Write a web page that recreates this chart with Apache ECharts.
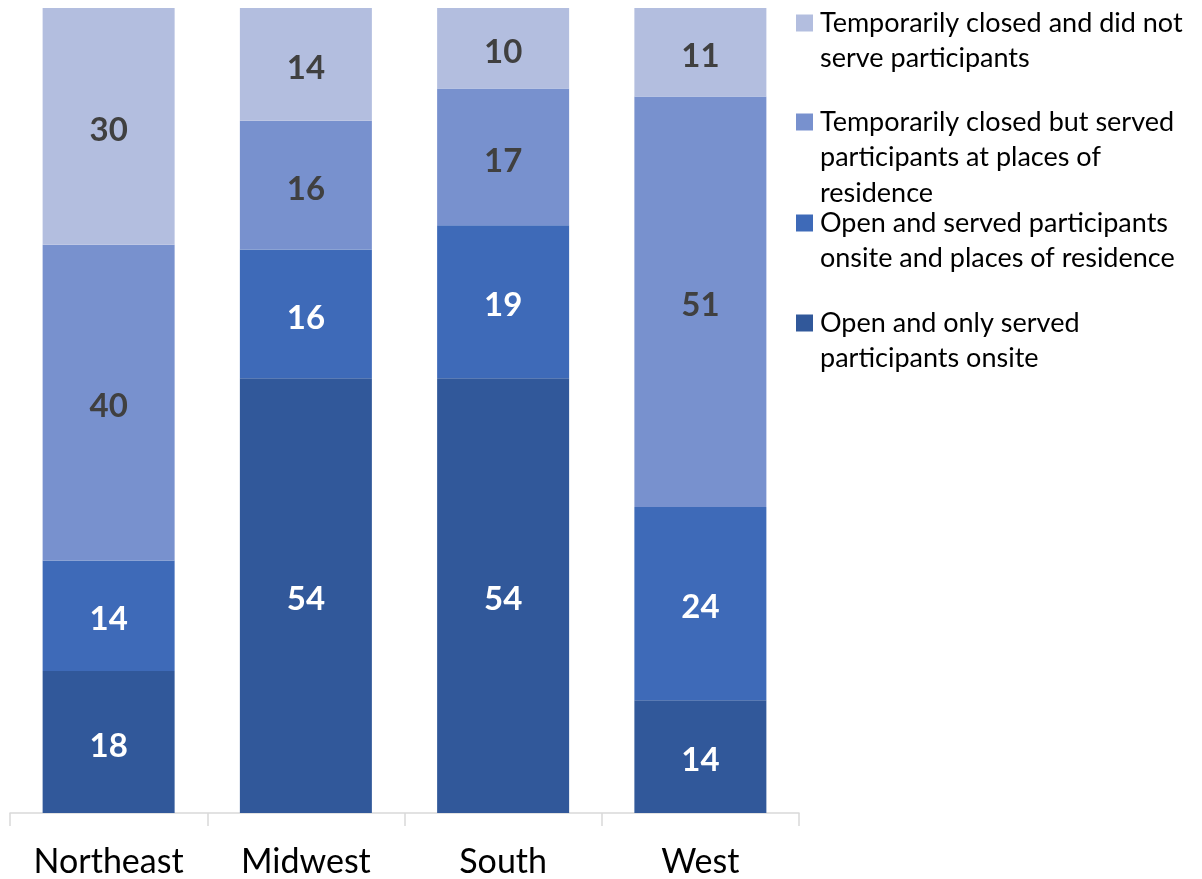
<!DOCTYPE html>
<html>
<head>
<meta charset="utf-8">
<script src="https://cdn.jsdelivr.net/npm/echarts@6/dist/echarts.min.js"></script>
<style>html,body{margin:0;padding:0;background:#fff}#c{width:1202px;height:879px}</style>
</head>
<body>
<div id="c"></div>
<script>
var categories = ['Northeast', 'Midwest', 'South', 'West'];
var openOnsite = [18, 54, 54, 14];
var openBoth = [14, 16, 19, 24];
var closedServed = [40, 16, 17, 51];
var closedNotServed = [30, 14, 10, 11];
var seriesNames = [
  'Open and only served participants onsite',
  'Open and served participants onsite and places of residence',
  'Temporarily closed but served participants at places of residence',
  'Temporarily closed and did not serve participants'
];
var legendText = {
  'Temporarily closed and did not serve participants': ['Temporarily closed and did not', 'serve participants'],
  'Temporarily closed but served participants at places of residence': ['Temporarily closed but served', 'participants at places of', 'residence'],
  'Open and served participants onsite and places of residence': ['Open and served participants', 'onsite and places of residence'],
  'Open and only served participants onsite': ['Open and only served', 'participants onsite']
};
var colors = ['#31589A', '#3E6AB8', '#7891CE', '#B3BEDF'];
var labelColors = ['#ffffff', '#ffffff', '#404040', '#404040'];

var raw = [openOnsite, openBoth, closedServed, closedNotServed];
var totals = categories.map(function (c, i) {
  return raw.reduce(function (s, arr) { return s + arr[i]; }, 0);
});

var FONT = 'Lato';
var LH = 35.5;
var legendOrder = [3, 2, 1, 0];
var legendFirstLine = [23, 122, 223, 323];
var legends = legendOrder.map(function (si, k) {
  var name = seriesNames[si];
  var n = legendText[name].length;
  var blanks = n - 1;
  var top = legendFirstLine[k] - blanks * LH - LH / 2;
  return {
    data: [name],
    orient: 'vertical',
    left: 796,
    top: top,
    padding: 0,
    itemWidth: 17,
    itemHeight: 17,
    itemGap: 0,
    icon: 'rect',
    selectedMode: false,
    formatter: function (nm) {
      var lines = legendText[nm];
      var pre = '';
      for (var b = 0; b < lines.length - 1; b++) pre += ' \n';
      return pre + lines.join('\n');
    },
    textStyle: { fontFamily: FONT, fontSize: 27, color: '#000', lineHeight: LH, padding: [0, 0, 0, 2] }
  };
});

var series = raw.map(function (arr, si) {
  return {
    name: seriesNames[si],
    type: 'bar',
    stack: 'total',
    barWidth: 132,
    itemStyle: { color: colors[si] },
    data: arr.map(function (v, i) { return { value: v / totals[i] * 100, raw: v }; }),
    label: {
      show: true,
      position: 'inside',
      offset: [0, 4],
      color: labelColors[si],
      fontFamily: FONT,
      fontWeight: 'bold',
      fontSize: 33,
      formatter: function (p) { return p.data.raw; }
    }
  };
});

var chart = echarts.init(document.getElementById('c'));
chart.setOption({
  animation: false,
  backgroundColor: '#fff',
  color: colors,
  legend: legends,
  grid: { left: 10, top: 8, width: 789, bottom: 66, containLabel: false },
  xAxis: {
    type: 'category',
    data: categories,
    axisLine: { lineStyle: { color: '#d9d9d9', width: 1.5 } },
    axisTick: { show: true, length: 13, lineStyle: { color: '#d9d9d9', width: 1.5 } },
    axisLabel: { fontFamily: FONT, fontSize: 34, color: '#000', margin: 32 }
  },
  yAxis: {
    type: 'value', min: 0, max: 100, show: false, splitLine: { show: false }
  },
  series: series
});
</script>
</body>
</html>
